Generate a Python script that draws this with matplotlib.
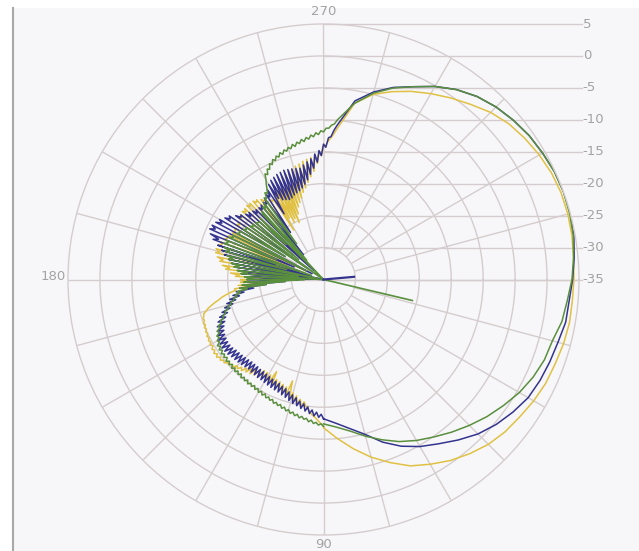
import numpy as np
import matplotlib
matplotlib.use("Agg")
import matplotlib.pyplot as plt
from matplotlib.patches import Rectangle
from matplotlib.lines import Line2D

# ---------------- data (angle in degrees, level in dB) ----------------
theta_noisy = list(range(90, 276))             # 90 .. 275, 1 degree steps
theta_main = [280, 285, 290, 295, 300, 305, 310, 315, 320, 325, 330,
              335, 340, 345, 350, 355, 360, 365, 370, 375, 380, 385, 390,
              395, 400, 405, 410, 415, 420, 425, 430, 435, 440, 445, 450]

blue_noisy = [
    -13.2, -13.9, -13.4, -14.2, -13.6, -14.5, -13.9, -14.9, -14.2, -15.3,
    -14.5, -15.6, -14.8, -16.0, -15.0, -16.3, -15.3, -16.6, -15.6, -16.9,
    -15.8, -17.1, -16.0, -17.3, -16.1, -17.4, -16.2, -17.5, -16.3, -17.6,
    -16.4, -17.7, -16.5, -17.8, -16.5, -17.8, -16.6, -17.9, -16.6, -17.9,
    -16.7, -17.9, -16.6, -17.8, -16.5, -17.7, -16.4, -17.6, -16.3, -17.5,
    -16.2, -17.4, -16.0, -17.2, -15.9, -17.1, -15.8, -17.1, -15.9, -17.2,
    -16.0, -17.3, -16.2, -17.5, -16.5, -17.8, -16.8, -18.2, -17.2, -18.6,
    -17.7, -19.1, -18.3, -19.7, -18.9, -20.3, -19.4, -20.9, -20.0, -21.6,
    -20.6, -22.4, -21.2, -24.0, -21.8, -26.0, -22.3, -29.0, -22.6, -31.0,
    -23.0, -33.0, -22.8, -35.0, -22.2, -30.0, -21.6, -35.0, -21.0, -32.0,
    -20.4, -35.0, -19.8, -30.0, -19.0, -33.0, -18.4, -27.0, -17.6, -31.0,
    -16.6, -17.4, -15.9, -30.0, -15.5, -16.3, -15.6, -33.0, -15.9, -16.8,
    -16.2, -28.0, -16.8, -17.6, -17.2, -32.0, -18.0, -18.8, -18.6, -29.0,
    -19.1, -19.9, -19.3, -33.0, -19.6, -20.3, -19.8, -27.0, -19.9, -20.4,
    -19.8, -30.0, -19.7, -20.2, -19.4, -26.0, -19.0, -19.6, -18.4, -23.0,
    -17.8, -20.5, -17.4, -21.0, -17.2, -21.2, -17.0, -21.4, -16.9, -21.3,
    -16.8, -21.0, -16.9, -20.8, -17.0, -20.6, -17.1, -20.3, -17.2, -19.8,
    -16.8, -19.2, -16.4, -18.4, -16.0, -17.5, -15.3, -16.6, -14.8, -15.6,
    -13.8, -14.3, -12.8, -12.6, -11.6, -10.8]
blue_main = [-6.6, -4.6, -3.0, -1.7, -0.1, 1.3, 2.4, 3.2, 3.8, 4.3, 4.6,
             4.9, 5.0, 5.0, 4.8, 4.4, 4.0, 3.6, 3.5, 3.0, 2.7, 2.4, 2.0,
             1.2, 0.3, -0.8, -2.2, -3.6, -4.8, -6.2, -7.9, -9.9, -11.3, -12.4, -13.2]

green_noisy = [
    -12.0, -12.4, -12.2, -12.6, -12.4, -12.9, -12.6, -13.1, -12.9, -13.3,
    -13.0, -13.5, -13.2, -13.7, -13.4, -13.9, -13.6, -14.1, -13.8, -14.3,
    -14.0, -14.4, -14.1, -14.6, -14.3, -14.7, -14.4, -14.9, -14.5, -15.0,
    -14.6, -15.1, -14.7, -15.2, -14.8, -15.2, -14.8, -15.3, -14.9, -15.3,
    -14.9, -15.4, -15.0, -15.4, -15.0, -15.4, -15.0, -15.5, -15.1, -15.5,
    -15.1, -15.6, -15.2, -15.6, -15.2, -15.7, -15.3, -15.8, -15.4, -16.0,
    -15.8, -16.3, -16.1, -16.7, -16.5, -17.1, -17.0, -17.6, -17.6, -18.2,
    -18.2, -18.8, -18.8, -19.4, -19.4, -20.0, -20.0, -20.6, -20.6, -21.2,
    -21.0, -21.8, -21.4, -23.0, -21.8, -26.0, -22.2, -29.0, -22.5, -32.0,
    -23.0, -24.0, -22.6, -35.0, -22.0, -23.0, -21.4, -31.0, -20.8, -21.6,
    -20.3, -34.0, -19.8, -20.4, -19.4, -29.0, -19.0, -19.6, -18.6, -33.0,
    -18.4, -19.0, -18.6, -27.0, -18.8, -19.4, -19.2, -32.0, -19.6, -20.0,
    -19.8, -28.0, -20.2, -20.6, -20.4, -35.0, -20.8, -21.2, -20.9, -30.0,
    -21.2, -21.4, -21.6, -27.0, -21.2, -25.8, -35.0, -21.0, -20.6, -31.0,
    -20.2, -20.6, -19.8, -28.0, -19.2, -19.5, -18.6, -18.9, -18.3, -17.6,
    -17.0, -16.1, -16.4, -15.6, -15.8, -15.0, -15.3, -14.6, -14.9, -14.3,
    -14.6, -14.0, -14.4, -13.8, -14.1, -13.6, -13.9, -13.3, -13.7, -13.1,
    -13.4, -12.8, -13.2, -12.6, -12.9, -12.3, -12.6, -12.0, -12.3, -11.7,
    -11.9, -11.3, -11.3, -10.8, -10.6, -9.9]
green_main = [-7.0, -4.8, -3.1, -1.7, -0.1, 1.3, 2.4, 3.2, 3.8, 4.3, 4.6,
              4.9, 5.0, 4.9, 4.7, 4.3, 3.9, 3.3, 2.9, 2.1, 1.8, 1.2, 0.4,
              -0.6, -1.6, -2.7, -3.8, -4.9, -5.9, -7.0, -8.3, -9.6, -10.9, -11.8, -12.4]

yellow_noisy = [
    -12.0, -12.4, -12.8, -13.2, -13.5, -13.8, -14.2, -14.6, -15.0, -15.6,
    -14.8, -15.9, -15.1, -16.3, -15.3, -16.6, -15.6, -18.4, -15.9, -17.2,
    -16.1, -17.4, -16.3, -17.6, -16.4, -17.7, -16.5, -18.8, -16.6, -17.9,
    -16.7, -18.0, -16.8, -18.0, -16.7, -17.8, -16.5, -17.4, -16.3, -17.0,
    -16.1, -16.6, -15.8, -16.2, -15.6, -15.9, -15.3, -15.5, -15.1, -15.2,
    -14.7, -14.9, -14.5, -14.8, -14.3, -14.7, -14.3, -14.7, -14.4, -14.8,
    -14.5, -14.8, -14.6, -14.9, -14.7, -15.0, -14.8, -15.1, -14.9, -15.2,
    -15.0, -15.3, -15.2, -15.4, -15.5, -16.0, -16.4, -17.0, -17.6, -18.3,
    -18.8, -19.5, -20.2, -21.2, -21.0, -24.0, -21.6, -27.0, -22.0, -23.0,
    -22.0, -30.0, -21.2, -21.8, -20.4, -29.0, -19.6, -20.2, -19.0, -33.0,
    -18.5, -19.0, -18.0, -27.0, -17.6, -18.2, -17.5, -31.0, -17.7, -18.2,
    -17.8, -29.0, -18.2, -18.6, -18.5, -18.8, -32.0, -19.0, -19.3, -19.2,
    -19.0, -27.0, -18.9, -19.3, -18.8, -30.0, -18.6, -19.0, -18.5, -28.0,
    -18.4, -18.9, -18.4, -31.0, -18.3, -18.8, -18.4, -26.0, -18.5, -19.0,
    -18.7, -24.0, -19.1, -19.6, -19.6, -25.0, -20.0, -20.4, -20.2, -26.0,
    -19.2, -24.0, -18.6, -25.0, -18.2, -24.5, -18.0, -25.3, -17.7, -24.0,
    -17.4, -23.0, -17.2, -22.4, -17.0, -21.8, -16.7, -21.0, -16.5, -20.4,
    -16.2, -19.6, -16.0, -18.8, -15.8, -18.0, -15.4, -16.8, -15.0, -15.6,
    -14.2, -14.0, -13.3, -12.8, -12.2, -11.4]
yellow_main = [-7.0, -5.0, -3.7, -2.5, -1.4, -0.3, 0.8, 2.0, 2.9, 3.5, 4.0,
               4.4, 4.6, 4.6, 4.5, 4.3, 4.2, 4.1, 4.1, 3.9, 3.6, 3.4, 3.0,
               2.5, 2.1, 1.5, 0.6, -0.4, -1.6, -2.8, -4.5, -6.2, -8.1, -10.0, -11.8]

# short radial strokes from the centre
green_spur_theta = [13.3, 13.3]
green_spur_level = [-35.0, -20.7]
blue_spur_theta = [355.0, 355.0]
blue_spur_level = [-35.0, -30.2]

ring_levels = [-30, -25, -20, -15, -10, -5, 0]
label_levels = [5, 0, -5, -10, -15, -20, -25, -30, -35]
axis_angles = [0, 90, 180, 270]
spoke_angles = [a for a in range(0, 360, 15) if a % 90 != 0]
rmin, rmax = -35, 5

# ---------------- figure ----------------
W, H = 639, 551
fig = plt.figure(figsize=(W / 100, H / 100), dpi=100)
fig.patch.set_facecolor("white")
fig.add_artist(Rectangle((13 / W, 0), 1 - 13 / W, 1 - 8 / H, transform=fig.transFigure,
                         facecolor="#f7f7f9", edgecolor="none", zorder=-5))
fig.add_artist(Line2D([13 / W, 13 / W], [0, 1 - 8 / H], transform=fig.transFigure,
                      color="#a9a9a9", lw=1.5, zorder=-4))

cx, cy, R = 323.5, 279.5, 255.5
rect = [(cx - R) / W, (H - cy - R) / H, 2 * R / W, 2 * R / H]
gc = "#d5cdcd"
tc = "#a3a3a3"

# overlay cartesian axes (leaders and labels), underneath
ax2 = fig.add_axes(rect, zorder=0)
span = rmax - rmin
ax2.set_xlim(-span, span)
ax2.set_ylim(-span, span)
ax2.axis("off")
ax2.patch.set_alpha(0)
x_end = (582 - cx) / (R / span)
for lv in label_levels:
    d = lv - rmin
    ax2.plot([0, x_end], [d, d], color=gc, lw=1.0, clip_on=False)
    ax2.text(x_end + 0.1, d, str(lv), ha="left", va="center", fontsize=9.5,
             color=tc, clip_on=False)
ax2.text(0, 41.9, "270", ha="center", va="center", fontsize=9.5, color=tc, clip_on=False)
ax2.text(0, -41.5, "90", ha="center", va="center", fontsize=9.5, color=tc, clip_on=False)
ax2.text(-40.3, 0.4, "180", ha="right", va="center", fontsize=9.5, color=tc, clip_on=False)

# polar axes
ax = fig.add_axes(rect, projection="polar", zorder=1)
ax.patch.set_alpha(0)
ax.set_theta_zero_location("E")
ax.set_theta_direction(-1)
ax.set_ylim(rmin, rmax)
ax.set_xticks([])
ax.set_yticks(ring_levels)
ax.set_yticklabels([])
ax.yaxis.grid(True, color=gc, lw=1.0)
ax.spines["polar"].set_color(gc)
ax.spines["polar"].set_linewidth(1.0)
ax.vlines(np.deg2rad(spoke_angles), -30, rmax, color=gc, lw=1.0)
ax.vlines(np.deg2rad(axis_angles), rmin, rmax, color=gc, lw=1.0)

def series(noisy, main):
    th = np.deg2rad(np.array(theta_noisy + theta_main, dtype=float))
    return th, np.array(noisy + main, dtype=float)

cols = {"yellow": "#e0c143", "blue": "#34348f", "green": "#5a8f3e"}
th, v = series(yellow_noisy, yellow_main)
ax.plot(th, v, color=cols["yellow"], lw=1.1)
th, v = series(blue_noisy, blue_main)
ax.plot(th, v, color=cols["blue"], lw=1.1)
th, v = series(green_noisy, green_main)
ax.plot(th, v, color=cols["green"], lw=1.1)
ax.plot(np.deg2rad(green_spur_theta), green_spur_level, color=cols["green"], lw=1.2)
ax.plot(np.deg2rad(blue_spur_theta), blue_spur_level, color=cols["blue"], lw=1.6)

fig.savefig("out.png", dpi=100, facecolor=fig.get_facecolor())
